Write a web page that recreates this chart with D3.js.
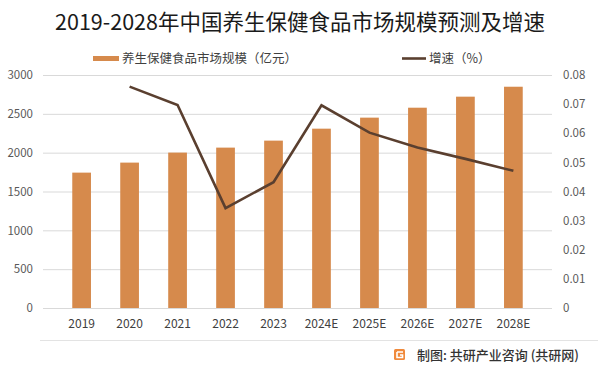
<!DOCTYPE html>
<html>
<head>
<meta charset="utf-8">
<script src="https://cdn.jsdelivr.net/npm/d3@7"></script>
<style>
  html, body { margin: 0; padding: 0; background: #fff; }
  svg { display: block; }
</style>
</head>
<body>
<svg id="chart"></svg>
<script>
// 数据
const years = ["2019", "2020", "2021", "2022", "2023", "2024E", "2025E", "2026E", "2027E", "2028E"];
const marketSize = [1743, 1872, 2001, 2065, 2155, 2309, 2451, 2579, 2721, 2849];
const growthRate = [null, 0.076, 0.0697, 0.0343, 0.0432, 0.0696, 0.0602, 0.0551, 0.0512, 0.0471];
const leftTicks = [0, 500, 1000, 1500, 2000, 2500, 3000];
const rightTicks = [0, 0.01, 0.02, 0.03, 0.04, 0.05, 0.06, 0.07, 0.08];

const width = 600, height = 372;
const margin = { top: 75, right: 48, bottom: 64, left: 43 };
const innerWidth = width - margin.left - margin.right;
const innerHeight = height - margin.top - margin.bottom;

const barColor = "#d68a4c";
const lineColor = "#5a3f2f";
const cjkFont = "Noto Sans CJK SC, Noto Sans, sans-serif";

const svg = d3.select("#chart")
    .attr("width", width)
    .attr("height", height)
    .attr("font-family", cjkFont);

const chart = svg.append("g")
    .attr("transform", `translate(${margin.left}, ${margin.top})`);

const x = d3.scaleBand()
    .domain(years)
    .range([0, innerWidth])
    .padding(0.61);

const yLeft = d3.scaleLinear().domain([0, 3000]).range([innerHeight, 0]);
const yRight = d3.scaleLinear().domain([0, 0.08]).range([innerHeight, 0]);

// 网格线
chart.append("g")
    .selectAll("line")
    .data(leftTicks)
    .enter()
    .append("line")
    .attr("x1", 0)
    .attr("x2", innerWidth)
    .attr("y1", d => yLeft(d) + 0.5)
    .attr("y2", d => yLeft(d) + 0.5)
    .attr("stroke", "#d9d9d9")
    .attr("stroke-width", 1);

// 左轴
const leftAxis = chart.append("g")
    .call(d3.axisLeft(yLeft).tickValues(leftTicks).tickSize(0).tickPadding(10)
        .tickFormat(d3.format("d")))
    .attr("font-size", 11.5)
    .attr("font-family", cjkFont);
leftAxis.select(".domain").remove();
leftAxis.selectAll("text").attr("fill", "#595959");

// 右轴
const rightAxis = chart.append("g")
    .attr("transform", `translate(${innerWidth}, 0)`)
    .call(d3.axisRight(yRight).tickValues(rightTicks).tickSize(0).tickPadding(11)
        .tickFormat(d => d === 0 ? "0" : d3.format(".2f")(d)))
    .attr("font-size", 11.5)
    .attr("font-family", cjkFont);
rightAxis.select(".domain").remove();
rightAxis.selectAll("text").attr("fill", "#595959");

// X轴
const xAxis = chart.append("g")
    .attr("transform", `translate(0, ${innerHeight})`)
    .call(d3.axisBottom(x).tickSize(0).tickPadding(11))
    .attr("font-size", 12)
    .attr("font-family", cjkFont);
xAxis.select(".domain").remove();
xAxis.selectAll("text").attr("fill", "#404040");

// 柱子
chart.selectAll(".bar")
    .data(years)
    .enter()
    .append("rect")
    .attr("class", "bar")
    .attr("x", d => x(d))
    .attr("y", (d, i) => yLeft(marketSize[i]))
    .attr("width", x.bandwidth())
    .attr("height", (d, i) => innerHeight - yLeft(marketSize[i]))
    .style("fill", barColor);

// 增速折线
const line = d3.line()
    .defined(d => d[1] !== null)
    .x(d => x(d[0]) + x.bandwidth() / 2)
    .y(d => yRight(d[1]));

chart.append("path")
    .datum(years.map((d, i) => [d, growthRate[i]]))
    .attr("d", line)
    .attr("fill", "none")
    .attr("stroke", lineColor)
    .attr("stroke-width", 2.6)
    .attr("stroke-linejoin", "miter");

// 标题
svg.append("text")
    .attr("x", width / 2)
    .attr("y", 30)
    .attr("text-anchor", "middle")
    .attr("font-size", 21.5)
    .attr("fill", "#1a1a1a")
    .text("2019-2028年中国养生保健食品市场规模预测及增速");

// 图例
svg.append("rect")
    .attr("x", 93)
    .attr("y", 56)
    .attr("width", 26)
    .attr("height", 5)
    .style("fill", barColor);

svg.append("text")
    .attr("x", 122)
    .attr("y", 63)
    .attr("font-size", 12.5)
    .attr("fill", "#404040")
    .text("养生保健食品市场规模（亿元）");

svg.append("line")
    .attr("x1", 402)
    .attr("x2", 426)
    .attr("y1", 58.5)
    .attr("y2", 58.5)
    .attr("stroke", lineColor)
    .attr("stroke-width", 2.6);

svg.append("text")
    .attr("x", 429)
    .attr("y", 63)
    .attr("font-size", 12.5)
    .attr("fill", "#404040")
    .text("增速（%）");

// 底部
svg.append("line")
    .attr("x1", 40)
    .attr("x2", 598)
    .attr("y1", 340.5)
    .attr("y2", 340.5)
    .attr("stroke", "#e3e3e3")
    .attr("stroke-width", 1);

const logo = svg.append("g").attr("transform", "translate(394, 349)");
logo.append("rect")
    .attr("width", 11)
    .attr("height", 11)
    .attr("rx", 1.5)
    .style("fill", "#f08a3c");
logo.append("path")
    .attr("d", "M3 3 H9 M3 3 V8.5 H8.5 V6 H6")
    .attr("fill", "none")
    .attr("stroke", "#fff")
    .attr("stroke-width", 1.6);

svg.append("text")
    .attr("x", 417)
    .attr("y", 360)
    .attr("font-size", 13)
    .attr("font-weight", 500)
    .attr("fill", "#333")
    .text("制图: 共研产业咨询 (共研网)");
</script>
</body>
</html>
